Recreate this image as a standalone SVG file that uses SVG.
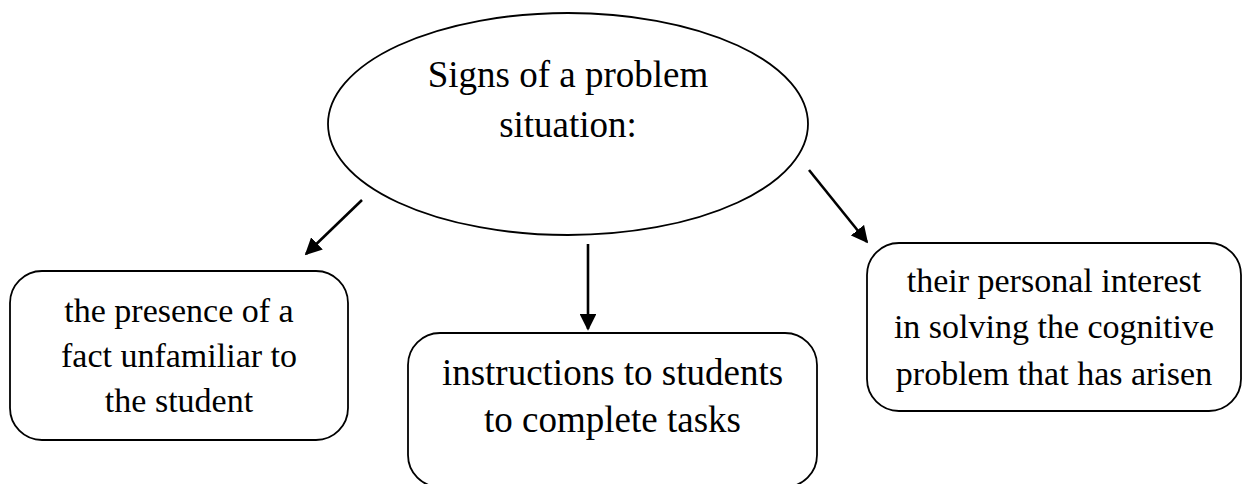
<svg xmlns="http://www.w3.org/2000/svg" width="1244" height="484" viewBox="0 0 1244 484">
<style>
.shape{fill:#fff;stroke:#000;stroke-width:1.8}
.t{font-family:"Liberation Serif","Times New Roman",serif;fill:#000;text-anchor:middle}
.conn{stroke:#000;stroke-width:2.6;fill:none}
</style>
<defs>
<marker id="ah" viewBox="0 0 10 10" refX="9" refY="5" markerWidth="6.5" markerHeight="6.5" markerUnits="strokeWidth" orient="auto">
<path d="M0,0 L10,5 L0,10 z" fill="#000"/>
</marker>
</defs>
<rect width="1244" height="484" fill="#fff"/>
<g id="connectors">
<line class="conn" x1="362" y1="200" x2="306" y2="254" marker-end="url(#ah)"/>
<line class="conn" x1="588" y1="244" x2="588" y2="329" marker-end="url(#ah)"/>
<line class="conn" x1="809" y1="170" x2="867" y2="242" marker-end="url(#ah)"/>
</g>
<g id="root">
<ellipse class="shape" cx="568" cy="124" rx="240" ry="111"/>
<text class="t" font-size="37" x="568" y="87">Signs of a problem</text>
<text class="t" font-size="37" x="568" y="137">situation:</text>
</g>
<g id="fact">
<rect class="shape" x="10" y="271" width="338" height="169" rx="32"/>
<text class="t" font-size="34" x="179" y="322">the presence of a</text>
<text class="t" font-size="34" x="179" y="367">fact unfamiliar to</text>
<text class="t" font-size="34" x="179" y="412">the student</text>
</g>
<g id="instructions">
<rect class="shape" x="408" y="333" width="409" height="154" rx="32"/>
<text class="t" font-size="37" x="612.5" y="385">instructions to students</text>
<text class="t" font-size="37" x="612.5" y="432">to complete tasks</text>
</g>
<g id="interest">
<rect class="shape" x="867" y="243" width="374" height="168" rx="32"/>
<text class="t" font-size="34" x="1054" y="292">their personal interest</text>
<text class="t" font-size="34" x="1054" y="338">in solving the cognitive</text>
<text class="t" font-size="34" x="1054" y="385">problem that has arisen</text>
</g>
</svg>
